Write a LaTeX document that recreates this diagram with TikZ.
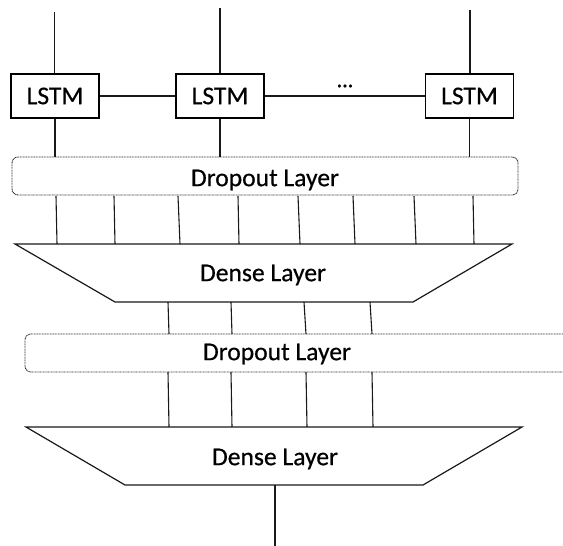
\documentclass[tikz,border=0pt]{standalone}
\usepackage{fontspec}
\setmainfont{Carlito}
\newfontfamily\lblfont{Carlito}[FakeBold=0.5]
\usetikzlibrary{calc}
\begin{document}
\begin{tikzpicture}[x=1pt,y=-1pt,
  wire/.style={draw=black!90,line width=1.1pt},
  cellbox/.style={draw=black,line width=1.2pt,fill=white,minimum width=88pt,minimum height=44pt,inner sep=0pt},
  dropbox/.style={draw=black!80,line width=0.9pt,dash pattern=on 1pt off 0.6pt,rounded corners=6pt,inner sep=0pt},
  densebox/.style={draw=black!90,line width=1.2pt,fill=white},
  lbl/.style={font=\lblfont\fontsize{25.6}{30}\selectfont,inner sep=0pt}]
\useasboundingbox (0,0) rectangle (563,546);
\clip (0,0) rectangle (563,546);

% recurrent cells
\node[cellbox,lbl] (lstm1) at (55,96) {LSTM};
\node[cellbox,lbl] (lstm2) at (220,96) {LSTM};
\node[cellbox,lbl] (lstm3) at (469.5,96) {LSTM};
\node[lbl,font=\lblfont\fontsize{22}{24}\selectfont] (dots) at (345,86) {...};
\draw[wire] (lstm1.east) -- (lstm2.west);
\draw[wire] (lstm2.east) -- (lstm3.west);

% inputs entering the cells
\coordinate (in1) at (54.5,12);
\coordinate (in2) at (220,8);
\coordinate (in3) at (470,10);
\draw[wire] (in1) -- (in1 |- lstm1.north);
\draw[wire] (in2) -- (lstm2.north);
\draw[wire] (in3) -- (in3 |- lstm3.north);

% first dropout layer
\node[dropbox,minimum width=506pt,minimum height=38pt] (drop1) at (265,176) {};
\node[lbl] (drop1txt) at (265,180) {Dropout Layer};
\foreach \i in {1,2,3}{
  \draw[wire] (lstm\i.south) -- (lstm\i.south |- drop1.north);
}

% first dense layer
\coordinate (d1tl) at (15,244);
\coordinate (d1tr) at (512,244);
\coordinate (d1br) at (413,302);
\coordinate (d1bl) at (115,302);
\draw[densebox] (d1tl) -- (d1tr) -- (d1br) -- (d1bl) -- cycle;
\node[lbl] (dense1) at (263,275) {Dense Layer};
\foreach \a/\b [count=\k] in {56/57,114/115,178/180,238/239,298/300,353/355,414/416,473/474}{
  \coordinate (u\k) at (\a,196);
  \coordinate (v\k) at (\b,244);
  \draw[wire] (u\k) -- (v\k);
}

% second dropout layer
\node[dropbox,minimum width=560pt,minimum height=38pt] (drop2) at (305,353) {};
\node[lbl] (drop2txt) at (277,354) {Dropout Layer};
\foreach \a/\b [count=\k] in {168/169,231/232,304/306,370/372}{
  \coordinate (p\k) at (\a,302);
  \coordinate (q\k) at (\b,334);
  \draw[wire] (p\k) -- (q\k);
}

% second dense layer
\coordinate (d2tl) at (26,427);
\coordinate (d2tr) at (522,427);
\coordinate (d2br) at (423,485);
\coordinate (d2bl) at (125,485);
\draw[densebox] (d2tl) -- (d2tr) -- (d2br) -- (d2bl) -- cycle;
\node[lbl] (dense2) at (275,459) {Dense Layer};
\foreach \a/\b [count=\k] in {168/169,231/232,306/307,372/373}{
  \coordinate (r\k) at (\a,372);
  \coordinate (s\k) at (\b,427);
  \draw[wire] (r\k) -- (s\k);
}

% network output
\coordinate (outp) at (275,546);
\draw[wire] (275,485) -- (outp);
\end{tikzpicture}
\end{document}
